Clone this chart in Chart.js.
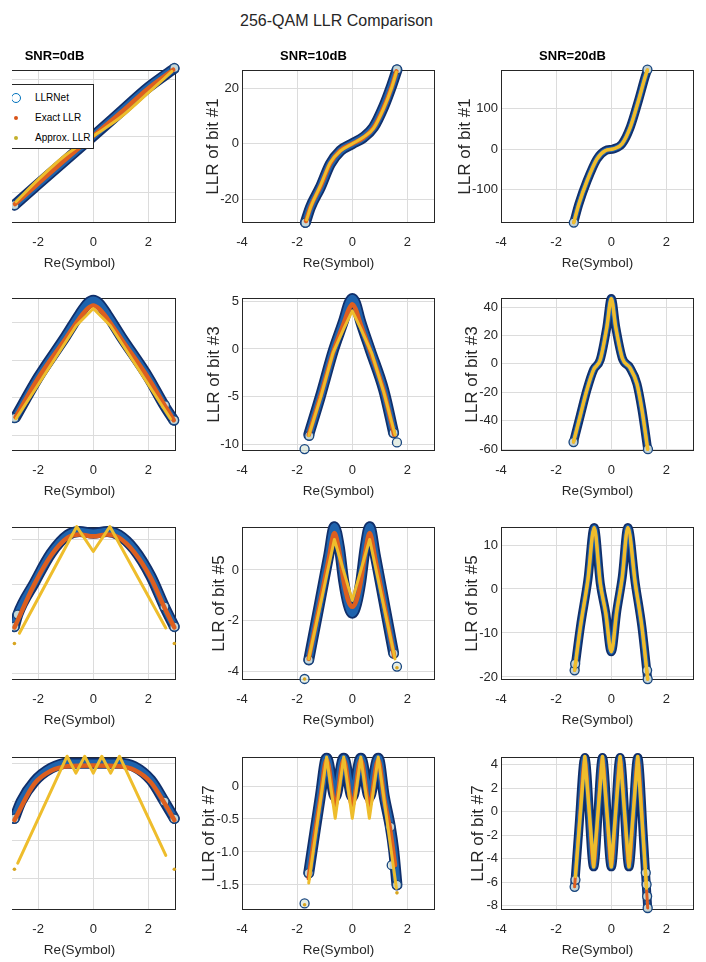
<!DOCTYPE html>
<html>
<head>
<meta charset="utf-8">
<script src="https://cdn.jsdelivr.net/npm/chart.js@4.4.1/dist/chart.umd.min.js"></script>
<style>
  body { margin: 0; width: 706px; height: 962px; position: relative; overflow: hidden; background: #fff;
         font-family: 'Liberation Sans', Arial, sans-serif; }
  canvas { position: absolute; }
  #sup { position: absolute; left: 0; width: 673px; top: 12px; text-align: center; font-size: 16px;
         line-height: 18px; color: #262626; }
  #clip1 { position: absolute; left: 12px; top: 0; width: 230px; height: 962px; overflow: hidden; }
  #legend { position: absolute; left: -30px; top: 84px; width: 112px; height: 65px; box-sizing: border-box;
            border: 1px solid #262626; background: #fff; font-size: 10px; color: #000; z-index: 5; }
  #legend .lbl { position: absolute; left: 52px; line-height: 12px; margin-top: -6px; white-space: nowrap; }
  #legend .mk { position: absolute; border-radius: 50%; box-sizing: border-box; }
</style>
</head>
<body>
<div id="sup">256-QAM LLR Comparison</div>
<div id="clip1">
  <div id="legend">
    <span class="mk" style="left:28px;top:8px;width:10px;height:10px;border:1.5px solid #0072bd;"></span>
    <span class="lbl" style="top:13px">LLRNet</span>
    <span class="mk" style="left:31px;top:31px;width:4px;height:4px;background:#d95319;"></span>
    <span class="lbl" style="top:33px">Exact LLR</span>
    <span class="mk" style="left:31px;top:51px;width:4px;height:4px;background:#c3b02c;"></span>
    <span class="lbl" style="top:53px">Approx. LLR</span>
  </div>
</div>
<script>
const bits = [1, 3, 5, 7];
const snrs = [0, 10, 20];
const xTicks = [-4, -2, 0, 2];
const xLim = [-4, 3];

// y limits / ticks, one entry per SNR column
const yLimBit1 = [[-30.7, 23.3], [-28.5, 26.5], [-183, 196]];
const yTicksBit1 = [[-20, 0, 20], [-20, 0, 20], [-100, 0, 100]];
const yLimBit3 = [[-12.1, 8.3], [-10.7, 5.35], [-61.3, 46.4]];
const yTicksBit3 = [[-10, -5, 0, 5], [-10, -5, 0, 5], [-60, -40, -20, 0, 20, 40]];
const yLimBit5 = [[-3.15, 0.29], [-4.33, 1.69], [-20.7, 14.1]];
const yTicksBit5 = [[-3, -2, -1, 0], [-4, -2, 0], [-20, -10, 0, 10]];
const yLimBit7 = [[-1.91, 0.08], [-1.88, 0.44], [-8.37, 4.65]];
const yTicksBit7 = [[-1.5, -1, -0.5, 0], [-1.5, -1, -0.5, 0], [-8, -6, -4, -2, 0, 2, 4]];

// [Re(symbol), LLR]
// bit #1
const net1_0 = [[-2.86,-24.4],[-2,-17],[-1,-8.5],[0,0],[1,8.6],[2,17.2],[2.93,23.8]];
const exa1_0 = [[-2.84,-24],[-2,-16.8],[-1,-8.2],[0,0],[1,8.3],[2,16.9],[2.9,23.4]];
const apx1_0 = [[-2.8,-23.2],[-2,-15.4],[-1,-6.7],[0,0],[1,6.7],[2,15.3],[2.85,22.8]];
const netPts1_0 = [[-2.86,-24.4],[2.94,24]];
const net1_10 = [[-1.7,-28.3],[-1.52,-22.9],[-1.16,-15.7],[-0.8,-7.3],[-0.43,-2.5],[0,0],[0.41,2.3],[0.77,5.9],[1.13,13.1],[1.43,20.9],[1.62,26.5]];
const exa1_10 = [[-1.68,-27.8],[-1.5,-22.4],[-1.15,-15.3],[-0.8,-7.1],[-0.43,-2.4],[0,0],[0.41,2.2],[0.77,5.7],[1.13,12.8],[1.43,20.5],[1.6,26]];
const apx1_10 = [[-1.66,-27.4],[-1.5,-22.6],[-1.15,-15],[-0.8,-6.8],[-0.43,-2.6],[0,0],[0.41,2.4],[0.77,5.5],[1.13,12.5],[1.43,20.2],[1.6,25.8]];
const netPts1_10 = [[-1.7,-28.4],[1.62,26.7]];
const net1_20 = [[-1.36,-182],[-1.18,-137],[-0.88,-79],[-0.52,-24.5],[-0.22,-4],[0.08,0.5],[0.39,13],[0.69,54.5],[0.99,121],[1.23,179.5],[1.31,196]];
const netPts1_20 = [[-1.36,-182],[1.31,197]];
// bit #3
const net3_0 = [[-2.82,-7.6],[-2,-2.3],[-1,3.2],[-0.5,6.1],[-0.2,7.6],[0,8.0],[0.2,7.6],[0.5,6.1],[1,3.2],[2,-2.3],[2.57,-6.0],[2.92,-8]];
const exa3_0 = [[-2.82,-7.6],[-2,-2.4],[-1,2.9],[-0.5,5.6],[-0.2,6.9],[0,7.3],[0.2,6.9],[0.5,5.6],[1,2.9],[2,-2.4],[2.6,-6.1],[2.92,-8]];
const apx3_0 = [[-2.8,-7.8],[-0.62,4.6],[0,6.9],[0.62,4.6],[2.8,-7.8]];
const netPts3_0 = [[-2.86,-7.7],[2.6,-6.0],[2.93,-8.0]];
const net3_10 = [[-1.58,-9.0],[-1.16,-5.0],[-0.68,-0.1],[-0.31,3.0],[-0.12,4.8],[0,5.3],[0.12,4.8],[0.29,3.0],[0.65,-0.1],[1.14,-4.3],[1.5,-8.8]];
const exa3_10 = [[-1.58,-9.0],[-1.16,-5.0],[-0.68,-0.2],[-0.31,2.7],[-0.12,4.2],[0,4.7],[0.12,4.2],[0.29,2.7],[0.65,-0.2],[1.14,-4.4],[1.52,-9.0]];
const apx3_10 = [[-1.58,-9.1],[-1.15,-5.1],[-0.7,-0.4],[-0.3,2.2],[0,4.0],[0.3,2.2],[0.7,-0.4],[1.15,-4.6],[1.55,-9.0]];
const netPts3_10 = [[-1.56,-9.1],[-1.73,-10.5],[1.5,-8.8],[1.62,-9.8]];
const net3_20 = [[-1.37,-55],[-1.12,-36],[-0.88,-18],[-0.64,-4],[-0.4,3],[-0.16,26],[0,46],[0.16,26],[0.4,4],[0.67,-2.5],[0.93,-14],[1.11,-32],[1.32,-60]];
const netPts3_20 = [[-1.37,-55],[1.33,-60]];
// bit #5
const net5_0 = [[-2.86,-1.95],[-2.74,-1.68],[-2.14,-0.97],[-1.53,-0.3],[-0.93,0.11],[-0.5,0.19],[0,0.15],[0.5,0.19],[0.93,0.11],[1.49,-0.22],[2.09,-0.82],[2.58,-1.5],[2.94,-1.95]];
const exa5_0 = [[-2.86,-1.97],[-2.14,-1.0],[-1.53,-0.35],[-0.93,0.05],[-0.5,0.12],[0,0.08],[0.5,0.12],[0.93,0.05],[1.49,-0.28],[2.09,-0.86],[2.6,-1.55],[2.94,-1.97]];
const apx5_0 = [[-2.68,-2.1],[-0.6,0.3],[0,-0.26],[0.6,0.3],[2.63,-1.98]];
const apxPts5_0 = [[-2.86,-2.33],[2.94,-2.33]];
const netPts5_0 = [[-2.86,-1.95],[-2.74,-1.68],[2.58,-1.5],[2.94,-1.95]];
const net5_10 = [[-1.58,-3.54],[-1.2,-1.4],[-0.85,0.6],[-0.65,1.7],[-0.47,0.9],[-0.31,-0.45],[-0.15,-1.35],[0,-1.7],[0.15,-1.35],[0.31,-0.45],[0.47,0.9],[0.63,1.7],[0.83,0.6],[1.2,-1.55],[1.5,-3.28]];
const exa5_10 = [[-1.58,-3.5],[-1.2,-1.45],[-0.85,0.45],[-0.65,1.45],[-0.47,0.7],[-0.31,-0.45],[-0.15,-1.2],[0,-1.45],[0.15,-1.2],[0.31,-0.45],[0.47,0.7],[0.63,1.45],[0.83,0.45],[1.2,-1.6],[1.52,-3.4]];
const apx5_10 = [[-1.58,-3.5],[-0.65,1.2],[0,-1.2],[0.63,1.2],[1.55,-3.5]];
const apxPts5_10 = [[-1.73,-4.29],[1.62,-3.85]];
const netPts5_10 = [[-1.58,-3.54],[-1.73,-4.29],[1.5,-3.28],[1.62,-3.8]];
const net5_20 = [[-1.33,-18.5],[-1.12,-8.6],[-0.85,2],[-0.62,14],[-0.4,1.3],[-0.2,-5.5],[0,-14.3],[0.2,-5],[0.4,2.8],[0.6,14],[0.87,1.3],[1.11,-8.6],[1.32,-20.5]];
const netPts5_20 = [[-1.33,-18.5],[-1.31,-17],[1.3,-18.5],[1.32,-20.5]];
// bit #7
const net7_0 = [[-2.86,-0.72],[-2.62,-0.5],[-2.14,-0.24],[-1.53,-0.065],[-0.93,0],[0,0],[0.93,0],[1.49,-0.044],[2.09,-0.22],[2.58,-0.5],[2.94,-0.72]];
const exa7_0 = [[-2.86,-0.74],[-2.14,-0.27],[-1.53,-0.1],[-0.93,-0.04],[0,-0.03],[0.93,-0.04],[1.49,-0.09],[2.09,-0.25],[2.6,-0.53],[2.94,-0.74]];
const apx7_0 = [[-2.74,-1.3],[-0.95,0.09],[-0.63,-0.13],[-0.31,0.09],[0,-0.13],[0.31,0.09],[0.63,-0.13],[0.95,0.09],[2.63,-1.2]];
const apxPts7_0 = [[-2.86,-1.38],[2.94,-1.38]];
const netPts7_0 = [[-2.86,-0.72],[2.58,-0.5],[2.94,-0.72]];
const net7_10 = [[-1.58,-1.32],[-1.4,-0.82],[-1.16,-0.16],[-0.93,0.42],[-0.62,-0.16],[-0.31,0.42],[0,-0.16],[0.31,0.42],[0.62,-0.16],[0.94,0.42],[1.16,-0.16],[1.38,-0.62],[1.5,-0.97],[1.62,-1.5]];
const exa7_10 = [[-1.58,-1.4],[-1.4,-0.85],[-1.16,-0.2],[-0.93,0.4],[-0.62,-0.3],[-0.31,0.4],[0,-0.3],[0.31,0.4],[0.62,-0.3],[0.94,0.4],[1.16,-0.2],[1.38,-0.68],[1.55,-1.2]];
const apx7_10 = [[-1.58,-1.47],[-0.93,0.44],[-0.62,-0.49],[-0.31,0.44],[0,-0.49],[0.31,0.44],[0.62,-0.49],[0.94,0.44],[1.6,-1.55]];
const apxPts7_10 = [[-1.73,-1.8],[1.62,-1.62]];
const netPts7_10 = [[-1.58,-1.32],[-1.73,-1.78],[1.38,-0.62],[1.43,-1.2],[1.62,-1.5]];
const net7_20 = [[-1.33,-6.4],[-1.18,-1.6],[-0.96,4.6],[-0.64,-4.7],[-0.32,4.6],[0,-4.7],[0.32,4.6],[0.64,-4.7],[0.96,4.6],[1.17,-2.4],[1.25,-5.5],[1.32,-8.2]];
const apx7_20 = [[-1.3,-5.5],[-0.96,4.7],[-0.64,-4.7],[-0.32,4.7],[0,-4.7],[0.32,4.7],[0.64,-4.7],[0.96,4.7],[1.28,-6.5]];
const netPts7_20 = [[-1.33,-6.4],[-1.3,-5.8],[1.25,-5.2],[1.28,-6.2],[1.3,-7.2],[1.32,-8.2]];

// lookup: [LLRNet, Exact, Approx, LLRNet outliers, Approx outliers]
const series = {
  '1_0': [net1_0, exa1_0, apx1_0, netPts1_0, []],
  '1_10': [net1_10, exa1_10, apx1_10, netPts1_10, []],
  '1_20': [net1_20, net1_20, net1_20, netPts1_20, []],
  '3_0': [net3_0, exa3_0, apx3_0, netPts3_0, []],
  '3_10': [net3_10, exa3_10, apx3_10, netPts3_10, []],
  '3_20': [net3_20, net3_20, net3_20, netPts3_20, []],
  '5_0': [net5_0, exa5_0, apx5_0, netPts5_0, apxPts5_0],
  '5_10': [net5_10, exa5_10, apx5_10, netPts5_10, apxPts5_10],
  '5_20': [net5_20, net5_20, net5_20, netPts5_20, []],
  '7_0': [net7_0, exa7_0, apx7_0, netPts7_0, apxPts7_0],
  '7_10': [net7_10, exa7_10, apx7_10, netPts7_10, apxPts7_10],
  '7_20': [net7_20, net7_20, apx7_20, netPts7_20, []]
};
const yLims = [yLimBit1, yLimBit3, yLimBit5, yLimBit7];
const yTickSets = [yTicksBit1, yTicksBit3, yTicksBit5, yTicksBit7];

// layout
const FONT = "'Liberation Sans', Arial, sans-serif";
const INK = '#262626';
const M = 50, T = 28, B = 48, PW = 193, PH = 153;
const colLeft = [-17, 242, 501];
const rowTop = [70, 298, 527, 757];
const yTitleGap = [[28, 29, 36], [28, 28, 29], [28, 22.5, 29], [28, 33, 22.5]];
const netOuterW = [11, 11, 9], netInnerW = [7.5, 7.5, 5.5], exaW = [4.5, 4.5, 3], apxW = [3, 3, 3.5];

const frame = {
  id: 'frame',
  beforeDatasetsDraw(chart) {
    const { ctx, chartArea: a } = chart;
    ctx.save();
    ctx.strokeStyle = INK;
    ctx.lineWidth = 1;
    ctx.strokeRect(a.left + 0.5, a.top + 0.5, a.width - 1, a.height - 1);
    ctx.restore();
  }
};

function toXY(a) { return a.map(p => ({ x: p[0], y: p[1] })); }

function lineSet(a, color, width, order, smooth) {
  return {
    data: toXY(a), borderColor: color, borderWidth: width, order,
    pointRadius: 0, fill: false, clip: 6, tension: 0,
    cubicInterpolationMode: smooth ? 'monotone' : 'default',
    borderCapStyle: 'round', borderJoinStyle: 'round'
  };
}

function pointSet(a, edge, face, radius, width, order) {
  return {
    data: toXY(a), showLine: false, pointRadius: radius, pointBorderColor: edge,
    pointBackgroundColor: face, pointBorderWidth: width, order, clip: 8
  };
}

function makePanel(r, c) {
  const [net, exa, apx, netPts, apxPts] = series[bits[r] + '_' + snrs[c]];
  const apxSmooth = r === 0 || (c === 2 && r < 3);
  const cv = document.createElement('canvas');
  cv.width = PW + 2 * M;
  cv.height = PH + T + B;
  cv.style.left = (colLeft[c] - M - (c === 0 ? 12 : 0)) + 'px';
  cv.style.top = (rowTop[r] - T) + 'px';
  (c === 0 ? document.getElementById('clip1') : document.body).appendChild(cv);

  const lim = yLims[r][c];
  const ticks = yTickSets[r][c];
  const datasets = [
    lineSet(net, '#102f6b', netOuterW[c], 6, true),
    lineSet(net, '#1f63ad', netInnerW[c], 5, true),
    pointSet(netPts, '#17457f', 'rgba(225,235,225,0.85)', 4.5, 1.3, 4),
    lineSet(exa, '#dd5f1f', exaW[c], 3, true),
    lineSet(apx, '#eebd2c', apxW[c], 2, apxSmooth),
    pointSet(apxPts, '#d8a520', '#d8a520', 1.8, 0, 1)
  ];

  new Chart(cv, {
    type: 'line',
    data: { datasets },
    options: {
      responsive: false, animation: false, events: [], devicePixelRatio: 1,
      layout: { padding: { left: 0, right: M, top: 0, bottom: 0 } },
      plugins: {
        legend: { display: false },
        tooltip: { enabled: false },
        title: {
          display: true, text: r === 0 ? 'SNR=' + snrs[c] + 'dB' : '', color: '#000',
          font: { family: FONT, size: 13, weight: 'bold', lineHeight: 1 },
          padding: { top: 8, bottom: 7 }
        }
      },
      scales: {
        x: {
          type: 'linear', min: xLim[0], max: xLim[1],
          afterBuildTicks: s => { s.ticks = xTicks.map(v => ({ value: v })); },
          afterFit: s => { s.height = B; },
          grid: { color: '#dcdcdc', drawTicks: false },
          border: { display: false },
          ticks: { padding: 12, color: INK, font: { family: FONT, size: 13 }, maxRotation: 0, autoSkip: false },
          title: {
            display: true, text: 'Re(Symbol)', color: INK,
            font: { family: FONT, size: 13.5, lineHeight: 1.2 }, padding: { top: 0, bottom: 0 }
          }
        },
        y: {
          type: 'linear', min: lim[0], max: lim[1],
          afterBuildTicks: s => { s.ticks = ticks.map(v => ({ value: v })); },
          afterFit: s => { s.width = M; },
          grid: { color: '#dcdcdc', drawTicks: false },
          border: { display: false },
          ticks: { padding: 3, color: INK, font: { family: FONT, size: 13 } },
          title: {
            display: true, text: 'LLR of bit #' + bits[r], color: INK,
            font: { family: FONT, size: 17, lineHeight: 1.2 },
            padding: { top: M - yTitleGap[r][c] - 10.2, bottom: 0 }
          }
        }
      }
    },
    plugins: [frame]
  });
}

for (let r = 0; r < 4; r++) {
  for (let c = 0; c < 3; c++) makePanel(r, c);
}
</script>
</body>
</html>
